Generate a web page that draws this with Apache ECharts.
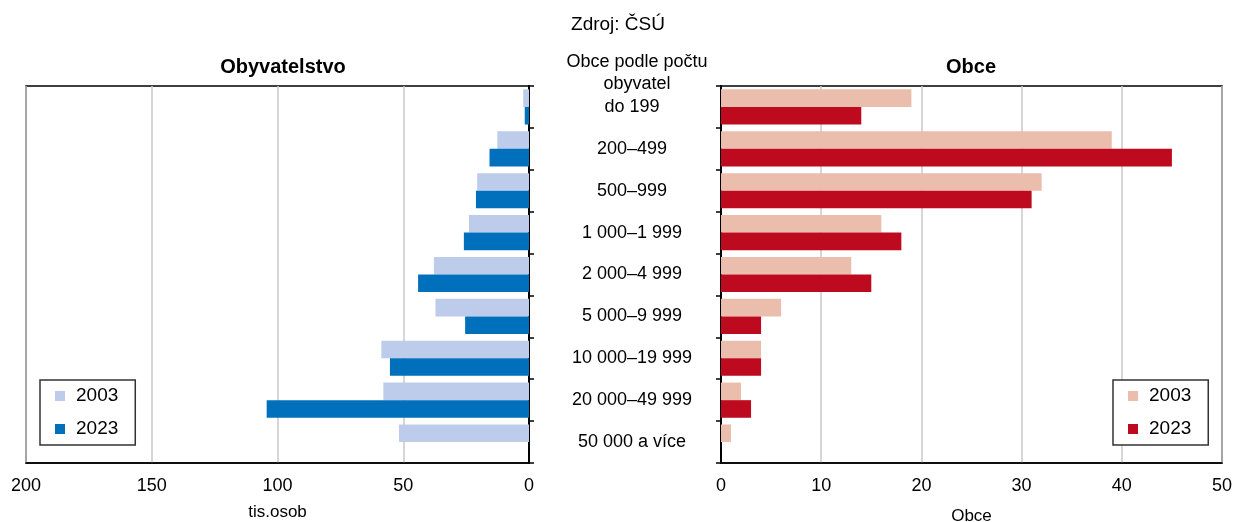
<!DOCTYPE html>
<html>
<head>
<meta charset="utf-8">
<script src="https://cdn.jsdelivr.net/npm/echarts@6/dist/echarts.min.js"></script>
<style>
html,body{margin:0;padding:0;background:#fff;}
#chart{width:1236px;height:522px;}
</style>
</head>
<body>
<div id="chart"></div>
<script>
const categories = ['do 199','200–499','500–999','1 000–1 999','2 000–4 999','5 000–9 999','10 000–19 999','20 000–49 999','50 000 a více'];
const pop2003 = [2.3, 12.6, 20.6, 23.9, 37.8, 37.2, 58.7, 57.9, 51.7];
const pop2023 = [1.7, 15.7, 21.1, 25.9, 44.1, 25.4, 55.3, 104.3, 0];
const obce2003 = [19, 39, 32, 16, 13, 6, 4, 2, 1];
const obce2023 = [14, 45, 31, 18, 15, 4, 4, 3, 0];
const popTicks = [0, 50, 100, 150, 200];
const obceTicks = [0, 10, 20, 30, 40, 50];

const FONT = 'Liberation Sans, Arial, sans-serif';
const C = {lb:'#BDCCEA', b:'#0070BC', ls:'#EBBDAC', r:'#BE0A1E'};

const chart = echarts.init(document.getElementById('chart'));
const legendCommon = {
  orient:'vertical', top:380, padding:[6,17,6,15], itemWidth:10, itemHeight:10, itemGap:13,
  icon:'rect', borderColor:'#333', borderWidth:1.5, backgroundColor:'#fff',
  textStyle:{fontFamily:FONT, fontSize:19, color:'#000', lineHeight:20, padding:[0,0,0,6]},
  selectedMode:false
};
const barCommon = {type:'bar', barGap:'0%', barCategoryGap:'16%'};
chart.setOption({
  animation:false,
  textStyle:{fontFamily:FONT},
  title:[
    {text:'Zdroj: ČSÚ', left:'center', top:10, textStyle:{fontFamily:FONT, fontSize:19, fontWeight:'normal', color:'#000'}},
    {text:'Obyvatelstvo', left:278, textAlign:'center', top:52, textStyle:{fontFamily:FONT, fontSize:20, fontWeight:'bold', color:'#000'}},
    {text:'Obce', left:966, textAlign:'center', top:52, textStyle:{fontFamily:FONT, fontSize:20, fontWeight:'bold', color:'#000'}},
    {text:'Obce podle počtu\nobyvatel', left:632, textAlign:'center', top:46, textStyle:{fontFamily:FONT, fontSize:18, fontWeight:'normal', color:'#000', lineHeight:22}}
  ],
  legend:[
    Object.assign({}, legendCommon, {left:40, data:['2003','2023']}),
    Object.assign({}, legendCommon, {left:1113, data:['Obce 2003','Obce 2023'], formatter:n=>n.replace('Obce ','')})
  ],
  grid:[
    {left:26, right:707, top:86, bottom:59, show:true, borderColor:'#000', borderWidth:1.5, containLabel:false, outerBoundsMode:'none'},
    {left:721, right:14, top:86, bottom:59, show:true, borderColor:'#000', borderWidth:1.5, containLabel:false, outerBoundsMode:'none'}
  ],
  xAxis:[
    {gridIndex:0, type:'value', inverse:true, min:popTicks[0], max:popTicks[popTicks.length-1], interval:50,
     name:'tis.osob', nameLocation:'middle', nameGap:41, nameTextStyle:{fontFamily:FONT, fontSize:17, color:'#000'},
     axisLine:{show:true, lineStyle:{color:'#000', width:1.5}}, axisTick:{show:false},
     axisLabel:{fontFamily:FONT, fontSize:18, color:'#000', margin:14},
     splitLine:{show:true, lineStyle:{color:'#c8c8c8', width:1.5}}},
    {gridIndex:1, type:'value', min:obceTicks[0], max:obceTicks[obceTicks.length-1], interval:10,
     name:'Obce', nameLocation:'middle', nameGap:45, nameTextStyle:{fontFamily:FONT, fontSize:17, color:'#000'},
     axisLine:{show:true, lineStyle:{color:'#000', width:1.5}}, axisTick:{show:false},
     axisLabel:{fontFamily:FONT, fontSize:18, color:'#000', margin:14},
     splitLine:{show:true, lineStyle:{color:'#c8c8c8', width:1.5}}}
  ],
  yAxis:[
    {gridIndex:0, type:'category', data:categories, inverse:true, position:'right',
     axisLine:{show:true, lineStyle:{color:'#000', width:2}},
     axisTick:{show:true, length:5, lineStyle:{color:'#000', width:1.5}},
     axisLabel:{show:false}, splitLine:{show:false}},
    {gridIndex:1, type:'category', data:categories, inverse:true, position:'left',
     axisLine:{show:true, lineStyle:{color:'#000', width:2}},
     axisTick:{show:true, length:5, lineStyle:{color:'#000', width:1.5}},
     axisLabel:{show:true, align:'center', margin:89, fontFamily:FONT, fontSize:18, color:'#000'},
     splitLine:{show:false}}
  ],
  series:[
    Object.assign({}, barCommon, {name:'2003', xAxisIndex:0, yAxisIndex:0, data:pop2003, itemStyle:{color:C.lb}}),
    Object.assign({}, barCommon, {name:'2023', xAxisIndex:0, yAxisIndex:0, data:pop2023, itemStyle:{color:C.b}}),
    Object.assign({}, barCommon, {name:'Obce 2003', xAxisIndex:1, yAxisIndex:1, data:obce2003, itemStyle:{color:C.ls}}),
    Object.assign({}, barCommon, {name:'Obce 2023', xAxisIndex:1, yAxisIndex:1, data:obce2023, itemStyle:{color:C.r}})
  ]
});
</script>
</body>
</html>
